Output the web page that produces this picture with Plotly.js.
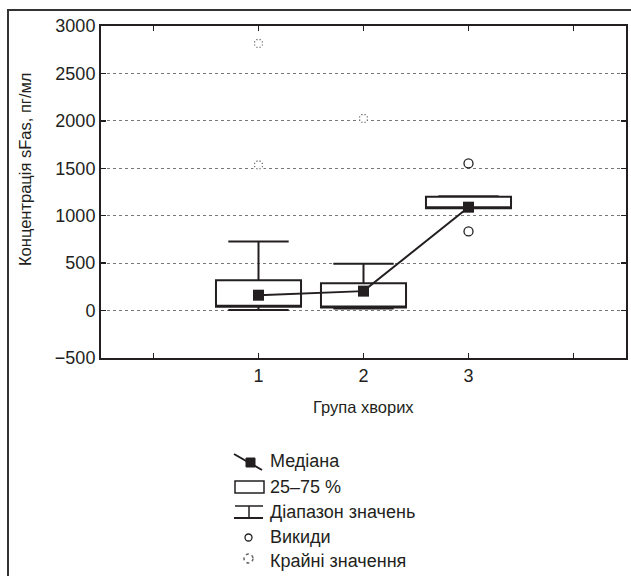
<!DOCTYPE html>
<html>
<head>
<meta charset="utf-8">
<script src="https://cdn.plot.ly/plotly-3.0.1.min.js"></script>
<style>
html,body{margin:0;padding:0;background:#fff;}
#wrap{position:relative;width:631px;height:576px;}
#chart{width:631px;height:576px;}
#frame{position:absolute;left:7px;top:9px;right:0;bottom:0;border-top:2px solid #333;border-left:2px solid #333;pointer-events:none;}
</style>
</head>
<body>
<div id="wrap"><div id="chart"></div><div id="frame"></div></div>
<script>
// ---- data ----
const groups = [1, 2, 3];
const q1 = [40, 33, 1080];
const median = [162, 205, 1090];
const q3 = [320, 289, 1200];
const lowerWhisker = [5, 22, 1080];
const upperWhisker = [728, 493, 1206];
const outlierX = [3, 3];
const outlierY = [1551, 834];
const extremeX = [1, 1, 2];
const extremeY = [2816, 1535, 2025];
const xTickVals = [0, 1, 2, 3, 4];
const xTickText = ['', '1', '2', '3', ''];
const yTitle = 'Концентрація sFas, пг/мл';
const xTitle = 'Група хворих';
const legendLabels = ['Медіана', '25\u201375 %', 'Діапазон значень', 'Викиди', 'Крайні значення'];

const ink = '#231f20';
const FONT = '"Liberation Sans", Arial, sans-serif';

// plot area in pixels
const L = 101, T = 26, PW = 525, PH = 332;
const px = v => (v - L) / PW;
const py = v => 1 - (v - T) / PH;

const traces = [
  {
    type: 'box', x: groups, q1: q1, median: q1, q3: q3,
    lowerfence: lowerWhisker, upperfence: upperWhisker,
    width: 0.81, whiskerwidth: 0.71, boxpoints: false,
    fillcolor: '#fff', line: {color: ink, width: 2},
    hoverinfo: 'skip', showlegend: false
  },
  {
    type: 'scatter', mode: 'lines+markers', x: groups, y: median,
    line: {color: ink, width: 2},
    marker: {symbol: 'square', size: 11, color: ink},
    showlegend: false, hoverinfo: 'skip'
  },
  {
    type: 'scatter', mode: 'markers', x: outlierX, y: outlierY,
    marker: {symbol: 'circle-open', size: 9, color: ink, line: {width: 1.3, color: ink}},
    showlegend: false
  },
  {
    type: 'scatter', mode: 'markers', x: extremeX, y: extremeY,
    marker: {symbol: 'circle-open', size: 8, color: '#666', line: {width: 1.4, color: '#666'}},
    showlegend: false
  },
  {
    type: 'scatter', mode: 'markers', x: extremeX, y: extremeY,
    marker: {symbol: 'asterisk-open', size: 12, color: '#fff', line: {width: 2, color: '#fff'}},
    showlegend: false
  }
];

// custom legend (layout decoration)
const rowsY = [461, 487, 512, 537, 561];
const shapes = [
  // median icon
  {type: 'line', xref: 'paper', yref: 'paper', x0: px(234), y0: py(454), x1: px(262), y1: py(470), line: {color: ink, width: 2}},
  {type: 'rect', xref: 'paper', yref: 'paper', x0: px(246), y0: py(458), x1: px(255), y1: py(467), fillcolor: ink, line: {color: ink, width: 1}},
  // box icon
  {type: 'rect', xref: 'paper', yref: 'paper', x0: px(235), y0: py(481), x1: px(264), y1: py(493), fillcolor: '#fff', line: {color: ink, width: 1.5}},
  // range icon
  {type: 'line', xref: 'paper', yref: 'paper', x0: px(235), y0: py(506), x1: px(263), y1: py(506), line: {color: ink, width: 1.5}},
  {type: 'line', xref: 'paper', yref: 'paper', x0: px(249), y0: py(506), x1: px(249), y1: py(518), line: {color: ink, width: 1.5}},
  {type: 'line', xref: 'paper', yref: 'paper', x0: px(234), y0: py(518), x1: px(263), y1: py(518), line: {color: ink, width: 2}},
  // outlier icon
  {type: 'circle', xref: 'paper', yref: 'paper', x0: px(245), y0: py(534), x1: px(252), y1: py(541), line: {color: ink, width: 1.3}},
  // extreme icon
  {type: 'circle', xref: 'paper', yref: 'paper', x0: px(244), y0: py(554), x1: px(253), y1: py(563), line: {color: '#666', width: 1.5, dash: 'dot'}}
];
const annotations = legendLabels.map((t, i) => ({
  text: t, xref: 'paper', yref: 'paper', x: px(268), y: py(rowsY[i]),
  xanchor: 'left', yanchor: 'middle', showarrow: false,
  font: {family: FONT, size: 18, color: ink}
}));
annotations.push({
  text: yTitle, xref: 'paper', yref: 'paper', x: px(25), y: py(170),
  xanchor: 'center', yanchor: 'middle', textangle: -90, showarrow: false,
  font: {family: FONT, size: 16.5, color: ink}
});
annotations.push({
  text: xTitle, xref: 'paper', yref: 'paper', x: px(363), y: py(407),
  xanchor: 'center', yanchor: 'middle', showarrow: false,
  font: {family: FONT, size: 16.5, color: ink}
});

const layout = {
  width: 631, height: 576,
  margin: {l: L, r: 631 - L - PW, t: T, b: 576 - T - PH, pad: 0},
  paper_bgcolor: '#fff', plot_bgcolor: '#fff',
  showlegend: false,
  font: {family: FONT, size: 18, color: ink},
  xaxis: {
    range: [-0.5, 4.5], tickvals: xTickVals, ticktext: xTickText,
    ticks: 'inside', ticklen: 5, tickwidth: 1.5, tickcolor: ink,
    showline: true, linecolor: ink, linewidth: 2, mirror: 'ticks',
    showgrid: false, zeroline: false,
    tickfont: {family: FONT, size: 18, color: ink}
  },
  yaxis: {
    range: [-500, 3000], dtick: 500, tick0: 0,
    ticks: 'inside', ticklen: 5, tickwidth: 1.5, tickcolor: ink,
    showline: true, linecolor: ink, linewidth: 2, mirror: 'ticks',
    showgrid: true, gridcolor: '#777', gridwidth: 1, griddash: 'dot',
    zeroline: false,
    tickfont: {family: FONT, size: 18, color: ink}
  },
  shapes: shapes,
  annotations: annotations
};

Plotly.newPlot('chart', traces, layout, {staticPlot: true, displayModeBar: false});
</script>
</body>
</html>
